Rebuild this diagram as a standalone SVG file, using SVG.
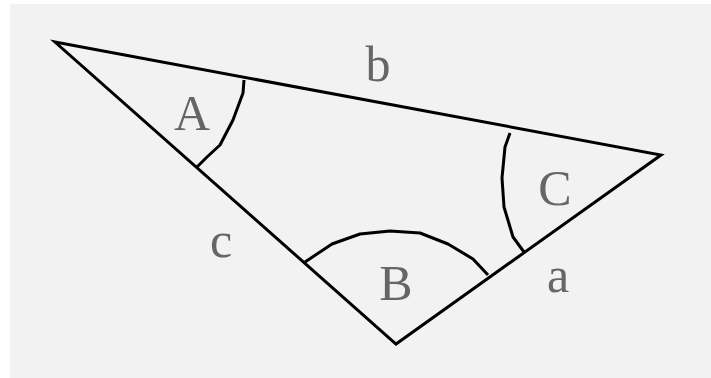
<svg xmlns="http://www.w3.org/2000/svg" width="711" height="378" viewBox="0 0 711 378">
<style>
.e{fill:none;stroke:#000;stroke-width:3;stroke-linejoin:miter}
.arc{fill:none;stroke:#000;stroke-width:3;stroke-linejoin:round}
.l{font-family:"Liberation Serif",serif;font-size:50px;fill:#666;text-anchor:middle}
</style>
<rect x="10" y="4" width="701" height="374" fill="#f2f2f2"/>
<g id="triangle"><polygon class="e" points="55,42 661,155 396,344"/></g>
<g id="connectors">
<polyline class="arc" points="244,80 243,93 233,120 220,145 207,157 197,167"/>
<polyline class="arc" points="510,133 505,147 502,178 504,207 513,237 524,252"/>
<polyline class="arc" points="305,262 332,244 360,234 390,231 420,233 448,244 473,259 488,275"/>
</g>
<g id="labels">
<text class="l" x="192" y="130">A</text>
<text class="l" x="378" y="81">b</text>
<text class="l" x="555" y="205">C</text>
<text class="l" x="221" y="257">c</text>
<text class="l" x="396" y="300">B</text>
<text class="l" x="558" y="292">a</text>
</g>
</svg>
